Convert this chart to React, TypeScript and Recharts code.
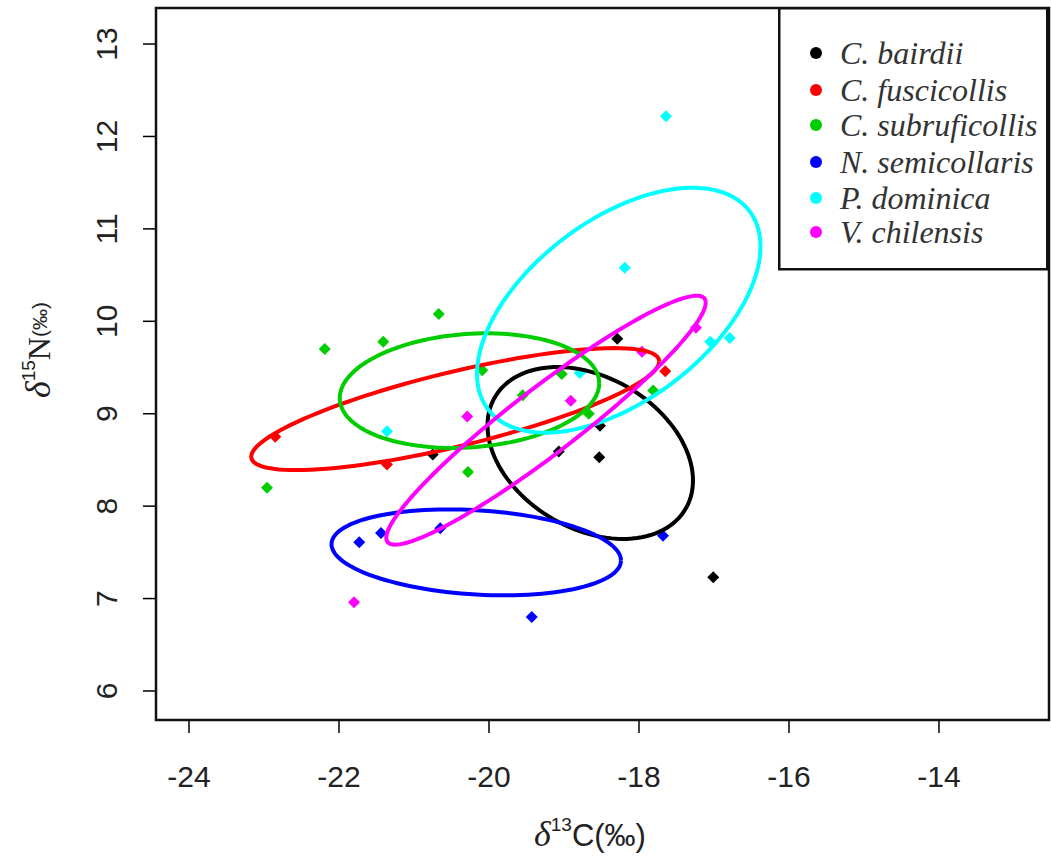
import { ScatterChart, Scatter, XAxis, YAxis, ReferenceArea } from 'recharts';

// Species order, colours (R default palette)
const species = ['C. bairdii', 'C. fuscicollis', 'C. subruficollis', 'N. semicollaris', 'P. dominica', 'V. chilensis'];
const colors = ['#000000', '#FF0000', '#00CD00', '#0000FF', '#00FFFF', '#FF00FF'];

// Isotope values (d13C, d15N)
const bairdiiC = [-18.29, -18.53, -17.01, -19.07, -18.52, -20.75];
const bairdiiN = [9.81, 8.53, 7.23, 8.59, 8.87, 8.56];
const fuscicollisC = [-22.85, -21.36, -17.65];
const fuscicollisN = [8.75, 8.45, 9.46];
const subruficollisC = [-20.67, -22.19, -21.41, -22.96, -20.28, -20.09, -19.03, -19.55, -18.67, -17.81];
const subruficollisN = [10.08, 9.7, 9.78, 8.2, 8.37, 9.47, 9.43, 9.2, 9.0, 9.25];
const semicollarisC = [-21.73, -21.44, -20.65, -17.68, -19.43];
const semicollarisN = [7.61, 7.71, 7.76, 7.68, 6.8];
const dominicaC = [-17.64, -18.19, -16.79, -17.05, -21.36, -18.79];
const dominicaN = [12.22, 10.58, 9.82, 9.78, 8.81, 9.44];
const chilensisC = [-20.29, -18.91, -17.96, -21.8, -17.24];
const chilensisN = [8.97, 9.14, 9.67, 6.96, 9.93];

// Standard ellipse parameters per species: centre, half-extent in x / y, correlation
const ellipseCx = [-18.65, -20.45, -20.26, -20.17, -18.27, -19.24];
const ellipseCy = [8.575, 9.05, 9.25, 7.5, 10.12, 8.93];
const ellipseSx = [1.37, 2.72, 1.73, 1.93, 1.89, 2.13];
const ellipseSy = [0.93, 0.66, 0.62, 0.465, 1.325, 1.347];
const ellipseR = [-0.32, 0.78, 0.13, -0.19, 0.52, 0.944];

const xTicks = [-24, -22, -20, -18, -16, -14];
const yTicks = [6, 7, 8, 9, 10, 11, 12, 13];
const xDomain = [-24.44, -12.533];
const yDomain = [5.686, 13.39];

const pointsC = [bairdiiC, fuscicollisC, subruficollisC, semicollarisC, dominicaC, chilensisC];
const pointsN = [bairdiiN, fuscicollisN, subruficollisN, semicollarisN, dominicaN, chilensisN];

const seriesData = pointsC.map((xs, i) => xs.map((x, j) => ({ x, y: pointsN[i][j] })));

function ellipsePoints(i: number) {
  const pts = [];
  const n = 120;
  const k = Math.sqrt(1 - ellipseR[i] * ellipseR[i]);
  for (let s = 0; s <= n; s++) {
    const t = (s / n) * Math.PI * 2;
    pts.push({
      x: ellipseCx[i] + ellipseSx[i] * Math.cos(t),
      y: ellipseCy[i] + ellipseSy[i] * (ellipseR[i] * Math.cos(t) + k * Math.sin(t)),
    });
  }
  return pts;
}

const sans = '"Liberation Sans", Arial, sans-serif';
const serif = '"Liberation Serif", "Times New Roman", serif';

const Diamond = (props: any) => {
  const { cx, cy, fill } = props;
  if (cx == null || cy == null) return <g />;
  const d = 6;
  return <path d={`M${cx},${cy - d}L${cx + d},${cy}L${cx},${cy + d}L${cx - d},${cy}Z`} fill={fill} />;
};

const NoShape = () => <g />;

const XTick = (props: any) => (
  <text x={props.x} y={787} textAnchor="middle" fontFamily={sans} fontSize={30} fill="#222">
    {props.payload.value}
  </text>
);

const YTick = (props: any) => (
  <text
    x={117}
    y={props.y}
    transform={`rotate(-90 117 ${props.y})`}
    textAnchor="middle"
    fontFamily={sans}
    fontSize={30}
    fill="#222"
  >
    {props.payload.value}
  </text>
);

const legendRows = [53, 90, 125, 162, 198, 232];

export default function App() {
  return (
    <div style={{ position: 'absolute', left: 0, top: 0, width: 1051, height: 861, background: '#fff' }}>
      <ScatterChart width={1051} height={861} margin={{ top: 8, right: 2, left: 0, bottom: 0 }}>
        <XAxis
          type="number"
          dataKey="x"
          domain={xDomain}
          ticks={xTicks}
          allowDataOverflow
          height={141}
          axisLine={false}
          tickSize={13}
          tickLine={{ stroke: '#000', strokeWidth: 1.5 }}
          tick={<XTick />}
          interval={0}
        />
        <YAxis
          type="number"
          dataKey="y"
          domain={yDomain}
          ticks={yTicks}
          allowDataOverflow
          width={156}
          axisLine={false}
          tickSize={13}
          tickLine={{ stroke: '#000', strokeWidth: 1.5 }}
          tick={<YTick />}
          interval={0}
        />
        <ReferenceArea
          x1={xDomain[0]}
          x2={xDomain[1]}
          y1={yDomain[0]}
          y2={yDomain[1]}
          fill="none"
          fillOpacity={0}
          stroke="#111"
          strokeWidth={2.5}
        />
        {seriesData.map((data, i) => (
          <Scatter
            key={species[i]}
            name={species[i]}
            data={data}
            fill={colors[i]}
            shape={<Diamond />}
            isAnimationActive={false}
          />
        ))}
        {species.map((name, i) => (
          <Scatter
            key={`ell-${name}`}
            data={ellipsePoints(i)}
            line={{ stroke: colors[i], strokeWidth: 4 }}
            lineJointType="linear"
            shape={<NoShape />}
            legendType="none"
            isAnimationActive={false}
          />
        ))}
        <text x={590} y={846} textAnchor="middle" fill="#222">
          <tspan fontFamily={serif} fontStyle="italic" fontSize={36}>δ</tspan>
          <tspan fontFamily={sans} fontSize={19} dy={-15}>13</tspan>
          <tspan fontFamily={sans} fontSize={31} dy={15}>C(‰)</tspan>
        </text>
        <text x={50} y={350} transform="rotate(-90 50 350)" textAnchor="middle" fill="#222">
          <tspan fontFamily={serif} fontStyle="italic" fontSize={36}>δ</tspan>
          <tspan fontFamily={sans} fontSize={19} dy={-15}>15</tspan>
          <tspan fontFamily={serif} fontSize={32} dy={15}>N</tspan>
          <tspan fontFamily={sans} fontSize={21} dy={-3}>(‰)</tspan>
        </text>
      </ScatterChart>
      <svg
        width={271}
        height={264}
        style={{ position: 'absolute', left: 778, top: 7 }}
      >
        <rect x={1.25} y={1.25} width={268} height={261} fill="#fff" stroke="#111" strokeWidth={2.5} />
        {species.map((name, i) => (
          <g key={name}>
            <circle cx={816 - 778} cy={legendRows[i] - 7} r={6} fill={colors[i]} />
            <text
              x={840 - 778}
              y={legendRows[i] - 7 + 11}
              fontFamily={serif}
              fontStyle="italic"
              fontSize={32}
              fill="#333"
            >
              {name}
            </text>
          </g>
        ))}
      </svg>
    </div>
  );
}
